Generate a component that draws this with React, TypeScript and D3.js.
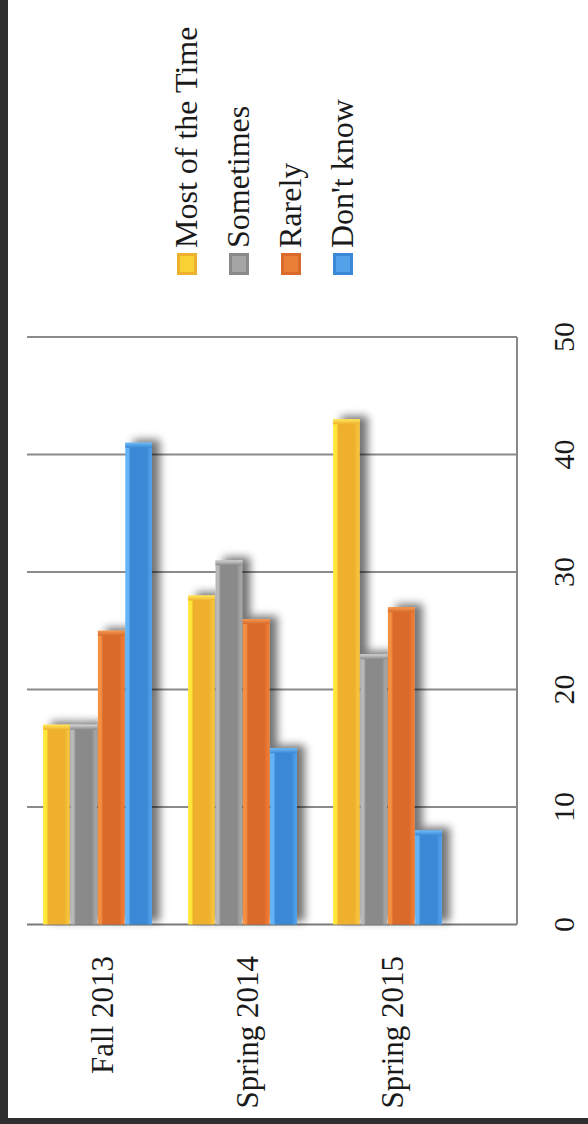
import React from "react";
import * as d3 from "d3";

const categories = ["Fall 2013", "Spring 2014", "Spring 2015"];
const seriesNames = ["Most of the Time", "Sometimes", "Rarely", "Don't know"];
const mostOfTheTime = [17, 28, 43];
const sometimes = [17, 31, 23];
const rarely = [25, 26, 27];
const dontKnow = [41, 15, 8];
const valueTicks = [0, 10, 20, 30, 40, 50];

const seriesValues = [mostOfTheTime, sometimes, rarely, dontKnow];

// colors: [edge light, body, right edge, top cap]
const palette = [
  { light: "#FFE838", body: "#EFB02E", right: "#F6C23A", cap: "#FFE85A" },
  { light: "#B8B8B8", body: "#8A8A8A", right: "#A4A4A4", cap: "#D4D4D4" },
  { light: "#F59040", body: "#D96A2C", right: "#EE7A32", cap: "#F59A50" },
  { light: "#62B4F6", body: "#3A88D6", right: "#4B9DEA", cap: "#6CBAF8" },
];

const W = 588;
const H = 1124;
const plotLeft = 27;
const plotRight = 517;
const FONT = "'Liberation Serif', 'Times New Roman', serif";

export default function App() {
  const y = d3.scaleLinear().domain([0, 50]).range([924.5, 337]);
  const x0 = d3
    .scaleBand<string>()
    .domain(categories)
    .range([25, 460])
    .paddingInner(0.25)
    .paddingOuter(0.125);
  const x1 = d3
    .scaleBand<string>()
    .domain(seriesNames)
    .range([0, x0.bandwidth()])
    .paddingInner(0.03);

  const legendX = (i: number) => 197 + i * 52;

  return (
    <svg
      width={W}
      height={H}
      style={{ position: "absolute", left: 0, top: 0, background: "#fff" }}
    >
      <defs>
        {palette.map((p, i) => (
          <linearGradient key={i} id={`g${i}`} x1="0" x2="1" y1="0" y2="0">
            <stop offset="0" stopColor={p.light} />
            <stop offset="0.12" stopColor={p.light} />
            <stop offset="0.2" stopColor={p.body} />
            <stop offset="0.8" stopColor={p.body} />
            <stop offset="0.92" stopColor={p.right} />
            <stop offset="1" stopColor={p.right} />
          </linearGradient>
        ))}
        {palette.map((p, i) => (
          <linearGradient key={i} id={`s${i}`} x1="0" x2="0" y1="0" y2="1">
            <stop offset="0" stopColor={p.cap} />
            <stop offset="1" stopColor={p.body} />
          </linearGradient>
        ))}
        <filter id="shadow" x="-50%" y="-20%" width="200%" height="140%">
          <feGaussianBlur in="SourceAlpha" stdDeviation="4" />
          <feOffset dx="8" dy="-3" result="ob" />
          <feComponentTransfer>
            <feFuncA type="linear" slope="0.55" />
          </feComponentTransfer>
          <feMerge>
            <feMergeNode />
            <feMergeNode in="SourceGraphic" />
          </feMerge>
        </filter>
        <filter id="blurText" x="-10%" y="-10%" width="120%" height="120%">
          <feGaussianBlur stdDeviation="0.4" />
        </filter>
      </defs>

      {/* dark border */}
      <rect x={0} y={0} width={W} height={H} fill="#fff" />
      <rect x={0} y={0} width={8} height={H} fill="#2f2f2f" />
      <rect x={0} y={1118} width={W} height={H - 1118} fill="#2f2f2f" />

      {/* gridlines */}
      {valueTicks.map((t) => (
        <line
          key={t}
          x1={plotLeft}
          x2={plotRight}
          y1={y(t)}
          y2={y(t)}
          stroke={t === 0 ? "#7a7a7a" : "#8a8a8a"}
          strokeWidth={2}
        />
      ))}
      <line
        x1={plotRight}
        x2={plotRight}
        y1={y(50)}
        y2={y(0)}
        stroke="#8a8a8a"
        strokeWidth={2}
      />

      {/* bars */}
      {categories.map((c, ci) => (
        <g key={c} transform={`translate(${x0(c)},0)`} filter="url(#shadow)">
          {seriesNames.map((s, si) => {
            const v = seriesValues[si][ci];
            const bx = x1(s) as number;
            const bw = x1.bandwidth();
            const top = y(v);
            const h = y(0) - top;
            return (
              <g key={s}>
                <rect x={bx} y={top} width={bw} height={h} fill={`url(#g${si})`} />
                <rect
                  x={bx}
                  y={top}
                  width={bw}
                  height={5}
                  fill={`url(#s${si})`}
                />
              </g>
            );
          })}
        </g>
      ))}

      {/* value axis labels */}
      {valueTicks.map((t) => (
        <text
          key={t}
          transform={`translate(574,${y(t)}) rotate(-90)`}
          textAnchor="middle"
          fontFamily={FONT}
          fontSize={30}
          fill="#1a1a1a"
        >
          {t}
        </text>
      ))}

      {/* category labels */}
      {categories.map((c) => (
        <text
          key={c}
          transform={`translate(${(x0(c) as number) + x0.bandwidth() / 2 + 15},956) rotate(-90)`}
          textAnchor="end"
          fontFamily={FONT}
          fontSize={31}
          fill="#1a1a1a"
        >
          {c}
        </text>
      ))}

      {/* legend */}
      {seriesNames.map((s, i) => (
        <g key={s}>
          <rect
            x={legendX(i) - 20}
            y={253}
            width={20}
            height={22}
            fill={palette[i].body}
          />
          <rect
            x={legendX(i) - 17}
            y={256}
            width={14}
            height={16}
            fill={palette[i].light}
            opacity={0.6}
          />
          <text
            transform={`translate(${legendX(i)},248) rotate(-90)`}
            textAnchor="start"
            fontFamily={FONT}
            fontSize={32}
            fill="#1a1a1a"
          >
            {s}
          </text>
        </g>
      ))}
    </svg>
  );
}
